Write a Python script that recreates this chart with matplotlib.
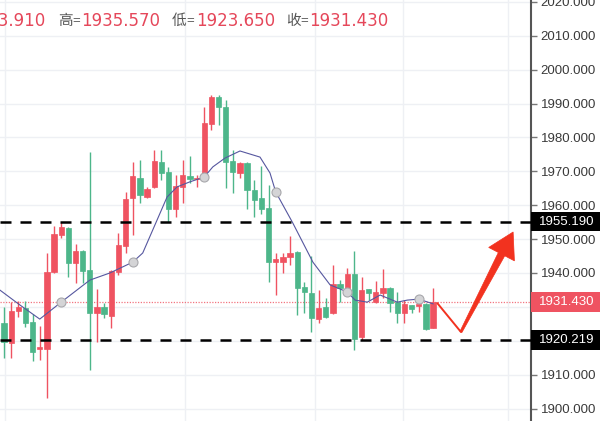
import numpy as np
import matplotlib
matplotlib.use("Agg")
import matplotlib.pyplot as plt
from matplotlib.patches import Rectangle, Polygon
from matplotlib.transforms import blended_transform_factory

# ---- data ----
opens = [1925.2, 1919.3, 1928.8, 1929.7, 1925.5, 1917.6, 1917.6, 1940.3, 1951.2, 1953.3,
         1942.9, 1946.5, 1940.9, 1928.2, 1930.0, 1927.3, 1940.3, 1948.0, 1962.1, 1968.0,
         1962.4, 1965.4, 1972.8, 1969.8, 1958.9, 1965.4, 1968.6, 1967.8, 1969.5, 1983.9,
         1991.9, 1989.0, 1973.0, 1969.5, 1972.5, 1964.5, 1962.1, 1959.2, 1943.2, 1943.2,
         1944.7, 1946.2, 1935.9, 1934.1, 1926.4, 1930.0, 1928.2, 1936.8, 1935.3, 1939.7,
         1921.1, 1935.3, 1931.4, 1934.1, 1935.6, 1931.4, 1928.2, 1930.6, 1930.3, 1930.9,
         1923.91]
highs = [1930.0, 1931.4, 1931.7, 1931.7, 1927.9, 1924.4, 1945.9, 1953.9, 1955.0, 1953.5,
         1948.5, 1946.8, 1975.7, 1935.3, 1931.1, 1940.9, 1951.8, 1963.9, 1972.8, 1973.3,
         1965.4, 1976.3, 1976.3, 1971.3, 1968.9, 1973.3, 1974.5, 1969.0, 1989.0, 1992.5,
         1992.5, 1991.0, 1976.3, 1972.8, 1972.8, 1967.4, 1971.6, 1966.0, 1945.9, 1945.9,
         1950.9, 1946.4, 1937.3, 1945.0, 1935.0, 1932.6, 1942.4, 1937.9, 1941.5, 1946.5,
         1938.8, 1935.4, 1937.6, 1941.2, 1935.8, 1934.4, 1932.0, 1930.7, 1932.0, 1931.1,
         1935.57]
lows = [1914.9, 1914.9, 1927.0, 1924.1, 1914.0, 1914.3, 1903.1, 1940.0, 1950.3, 1938.8,
        1937.0, 1937.0, 1911.4, 1919.6, 1926.7, 1923.8, 1939.4, 1945.9, 1951.2, 1960.6,
        1962.2, 1965.2, 1967.4, 1955.0, 1956.5, 1960.6, 1966.5, 1965.4, 1969.3, 1982.2,
        1983.7, 1965.1, 1963.6, 1968.0, 1958.9, 1956.5, 1957.4, 1937.3, 1933.5, 1940.0,
        1942.4, 1927.6, 1928.2, 1922.6, 1925.2, 1926.7, 1928.0, 1931.4, 1934.1, 1917.3,
        1920.2, 1932.0, 1931.2, 1932.6, 1928.5, 1925.2, 1925.2, 1928.2, 1928.5, 1923.2,
        1923.65]
closes = [1919.6, 1928.8, 1930.0, 1925.2, 1916.7, 1918.2, 1940.3, 1951.5, 1953.6, 1942.9,
          1946.5, 1940.6, 1928.2, 1930.0, 1927.9, 1940.6, 1948.3, 1961.8, 1968.6, 1963.0,
          1964.8, 1973.0, 1969.5, 1958.9, 1965.7, 1968.9, 1967.7, 1968.0, 1984.3, 1991.9,
          1989.0, 1972.8, 1969.8, 1972.5, 1964.5, 1961.5, 1958.9, 1943.2, 1944.1, 1944.7,
          1945.9, 1935.6, 1934.4, 1926.7, 1929.7, 1927.0, 1936.8, 1935.6, 1939.7, 1920.5,
          1935.0, 1934.1, 1934.4, 1935.6, 1931.1, 1928.2, 1930.9, 1929.4, 1930.9, 1923.5,
          1931.43]

# moving average line (bar index, price) and its round markers
ma_x = [-0.6, 2.2, 5.0, 8.0, 12.0, 14.8, 18.0, 19.4, 21.4, 22.8, 24.2, 26.0, 28.0,
        29.2, 30.9, 33.0, 35.8, 37.2, 38.0, 40.4, 43.2, 45.6, 48.0, 49.1, 50.8, 52.6,
        55.0, 56.4, 58.0, 60.0]
ma_y = [1935.0, 1930.6, 1926.4, 1931.4, 1937.9, 1940.0, 1943.2, 1945.9, 1955.6, 1962.4,
        1965.4, 1966.9, 1968.3, 1971.3, 1973.9, 1976.0, 1974.2, 1969.5, 1963.9, 1954.7,
        1943.2, 1936.5, 1934.4, 1932.0, 1931.4, 1933.5, 1931.4, 1932.0, 1932.3, 1930.9]
mk_x = [8, 18, 28, 38, 48, 58]
mk_y = [1931.4, 1943.2, 1968.3, 1963.9, 1934.4, 1932.3]

resistance = 1955.190
support = 1920.219
last_price = 1931.430
header_labels = ["开", "高", "低", "收"]
header_values = ["1923.910", "1935.570", "1923.650", "1931.430"]
yticks = np.arange(1900, 2030, 10)
vgrid_x = [0.15, 25.3, 43.5, 55.8, 70.5]

# hand-drawn arrow: start at last bar, dip, then up to the resistance
arrow_pts = [(60.6, 1931.1), (63.9, 1922.6), (71.2, 1952.1)]

RED = "#ef5361"
GREEN = "#4db68a"
ARROW = "#f2321f"

fig = plt.figure(figsize=(6, 4.21), dpi=100)
ax = fig.add_axes([0, 0, 531 / 600, 1])
ax.set_xlim(-0.56, 73.7)
ax.set_ylim(1896.33, 2020.55)

# grid
for y in yticks:
    ax.axhline(y, color="#eef0f4", lw=1.0, zorder=0)
for x in vgrid_x:
    ax.axvline(x, color="#eef0f4", lw=1.0, zorder=0)

# candles
idx = np.arange(len(opens))
o = np.array(opens); c = np.array(closes)
cols = [RED if cc >= oo else GREEN for oo, cc in zip(o, c)]
ax.vlines(idx, lows, highs, colors=cols, lw=1.0, zorder=2)
ax.bar(idx, np.abs(c - o), bottom=np.minimum(o, c), width=0.74,
       color=cols, edgecolor=cols, lw=0.5, zorder=3)

# MA line
ax.plot(ma_x, ma_y, color="#56579f", lw=0.8, zorder=4)
ax.plot(mk_x, mk_y, "o", ms=6.5, mfc="#d4d4d6", mec="#a8a8ac", mew=0.8, zorder=5)

# horizontal levels
ax.axhline(last_price, color=RED, lw=0.9, ls=(0, (1, 1.2)), alpha=0.8, zorder=1)
for lv in (resistance, support):
    ax.axhline(lv, color="black", lw=1.8, dashes=(4.4, 3.6), zorder=4)

# right axis
for s in ("left", "top", "bottom"):
    ax.spines[s].set_visible(False)
ax.spines["right"].set_color("#555555")
ax.spines["right"].set_linewidth(1.5)
ax.set_xticks([])
ax.yaxis.tick_right()
ax.set_yticks(yticks)
ax.set_yticklabels([f"{v:.3f}" for v in yticks], fontfamily="Liberation Sans",
                   fontsize=9.5, color="#3a3a3a")
ax.tick_params(axis="y", length=4, width=1, color="#777777", pad=3)

# price tags on the axis
tr = blended_transform_factory(ax.transAxes, ax.transData)
for lv, fc in ((resistance, "black"), (last_price, RED), (support, "black")):
    ax.add_patch(Rectangle((1.0, lv - 2.9), 0.2, 5.8, transform=tr, facecolor=fc,
                           edgecolor="none", clip_on=False, zorder=6))
    ax.text(1.0145, lv, f"{lv:.3f}", transform=tr, color="white", fontsize=9.5,
            fontfamily="Liberation Sans", va="center", ha="left", zorder=7,
            clip_on=False)

# arrow
sx, sy = arrow_pts[0]
bx, by = arrow_pts[1]
tx, ty = arrow_pts[2]
ax.plot([sx, bx], [sy, by], color=ARROW, lw=1.4, solid_capstyle="round", zorder=6)
fig.canvas.draw()
B = ax.transData.transform((bx, by))
T = ax.transData.transform((tx, ty))
u = (T - B) / np.hypot(*(T - B))
n = np.array([-u[1], u[0]])
H = T - u * 25
verts = [B + n * 1.1, H + n * 3.6, H + n * 14.5, T, H - n * 14.5, H - n * 3.6, B - n * 1.1]
fig.patches.append(Polygon(verts, closed=True, transform=None, facecolor=ARROW,
                           edgecolor=ARROW, lw=0.5, zorder=8))

# header (first item runs off the left edge)
H_Y = 1 - 21 / 421
lab_x = [-57, 58, 172, 286]      # left edge of each label, px
val_end = [45.5, 160, 275, 388]  # right edge of each value, px
for lab, val, lx, vx in zip(header_labels, header_values, lab_x, val_end):
    fig.text(lx / 600, H_Y, lab, color="#555555", fontsize=10.5,
             fontfamily="Noto Sans CJK SC", ha="left", va="center")
    fig.text((lx + 14) / 600, H_Y, "=", color="#555555", fontsize=9.5,
             fontfamily="Liberation Sans", ha="left", va="center")
    fig.text(vx / 600, H_Y, val, color="#e5475a", fontsize=12,
             fontfamily="DejaVu Sans", ha="right", va="center")

fig.savefig("out.png", dpi=100)
